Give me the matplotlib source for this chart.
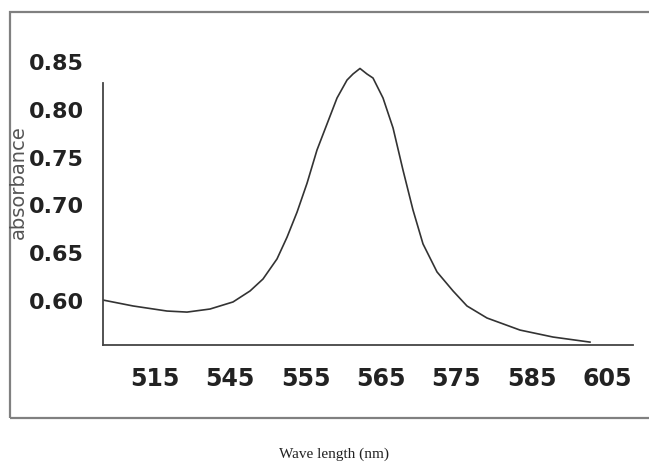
import numpy as np
import matplotlib
matplotlib.use("Agg")
import matplotlib.pyplot as plt
from matplotlib.patches import Rectangle

# x axis is categorical: labels are evenly spaced, curve x is in tick-index units
tick_labels = ["515", "545", "555", "565", "575", "585", "605"]
y_ticks = [0.60, 0.65, 0.70, 0.75, 0.80, 0.85]

curve_pos = [-0.691, -0.292, 0.159, 0.425, 0.730, 1.036, 1.262, 1.434, 1.620,
             1.753, 1.886, 2.019, 2.151, 2.284, 2.417, 2.550, 2.629, 2.722,
             2.815, 2.895, 3.028, 3.161, 3.293, 3.426, 3.559, 3.745, 3.958,
             4.143, 4.409, 4.847, 5.286, 5.777]
absorbance = [0.6010, 0.5948, 0.5895, 0.5884, 0.5916, 0.5990, 0.6105, 0.6230, 0.6440,
              0.6667, 0.6929, 0.7232, 0.7579, 0.7851, 0.8123, 0.8311, 0.8374, 0.8432,
              0.8374, 0.8332, 0.8123, 0.7810, 0.7370, 0.6952, 0.6597, 0.6304, 0.6105,
              0.5948, 0.5822, 0.5696, 0.5623, 0.5570]

fig = plt.figure(figsize=(6.49, 4.63), dpi=100)

# outer frame
fig.patches.append(Rectangle((10/649, 45/463), 1.2, 406/463, transform=fig.transFigure,
                             fill=False, edgecolor="#808080", linewidth=1.6, clip_on=False))

ax = fig.add_axes([103/649, 118.5/463, 530/649, 292.1/463])
ax.plot(curve_pos, absorbance, color="#333333", linewidth=1.2, solid_joinstyle="round")

ax.set_xlim(-0.691, 6.348)
ax.set_ylim(0.5545, 0.86)
ax.set_xticks(range(len(tick_labels)))
ax.set_xticklabels(tick_labels)
ax.set_yticks(y_ticks)
ax.set_yticklabels(["%.2f" % v for v in y_ticks])

for lab in ax.get_xticklabels():
    lab.set_fontsize(17)
    lab.set_fontweight("bold")
    lab.set_color("#222222")
for lab in ax.get_yticklabels():
    lab.set_fontsize(16)
    lab.set_fontweight("bold")
    lab.set_color("#222222")

ax.tick_params(axis="x", length=0, pad=16)
ax.tick_params(axis="y", length=0, pad=14)

ax.spines["top"].set_visible(False)
ax.spines["right"].set_visible(False)
ax.spines["left"].set_bounds(0.5545, 0.828)
for s in ["left", "bottom"]:
    ax.spines[s].set_color("#444444")
    ax.spines[s].set_linewidth(1.3)

fig.text(18/649, 1 - 182/463, "absorbance", rotation=90, ha="center", va="center",
         fontsize=14, color="#555555")
fig.text(334/649, 5/463, "Wave length (nm)", ha="center", va="baseline",
         fontsize=11, family="Liberation Serif", color="#222222")

fig.savefig("out.png", dpi=100)
